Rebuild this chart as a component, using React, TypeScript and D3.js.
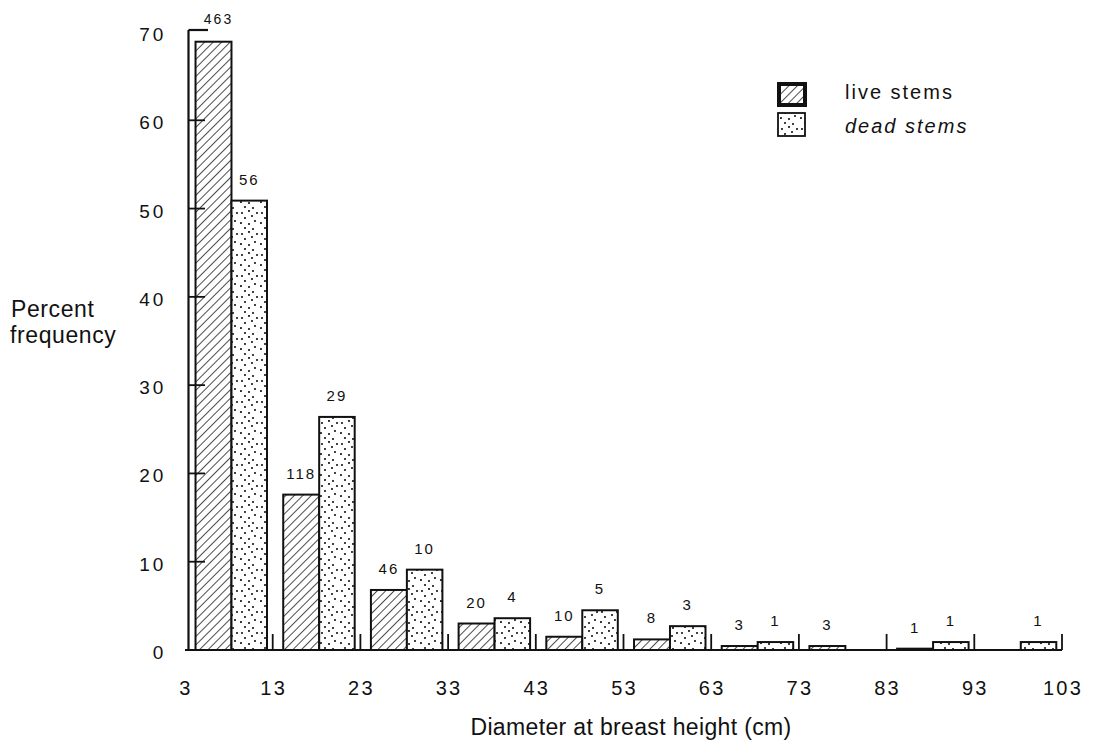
import React from "react";
import * as d3 from "d3";

const binStarts = [3, 13, 23, 33, 43, 53, 63, 73, 83, 93];
const xTickLabels = [3, 13, 23, 33, 43, 53, 63, 73, 83, 93, 103];
const yTicks = [0, 10, 20, 30, 40, 50, 60, 70];
const livePct = [68.9, 17.6, 6.8, 3.0, 1.5, 1.2, 0.45, 0.45, 0.15, 0];
const deadPct = [50.9, 26.4, 9.1, 3.6, 4.5, 2.7, 0.9, 0, 0.9, 0.9];
const liveCounts = ["463", "118", "46", "20", "10", "8", "3", "3", "1", ""];
const deadCounts = ["56", "29", "10", "4", "5", "3", "1", "", "1", "1"];

const W = 1094;
const H = 746;
const FONT = "'Liberation Sans', Arial, Helvetica, sans-serif";

export default function App() {
  const x = d3.scaleLinear().domain([3, 103]).range([185, 1062]);
  const y = d3.scaleLinear().domain([0, 70]).range([650, 32]);
  const y0 = y(0);
  const liveOff = [1.2, 5.3];
  const deadOff = [5.3, 9.35];

  const dots: [number, number][] = [
    [2, 3], [9, 1], [5, 8], [12, 6], [1, 13], [9, 14], [15, 11], [5, 18], [13, 19], [17, 3],
  ];

  return (
    <svg
      width={W}
      height={H}
      style={{ position: "absolute", left: 0, top: 0, background: "#fff" }}
      fontFamily={FONT}
    >
      <defs>
        <pattern id="hatch" width="6" height="6" patternUnits="userSpaceOnUse" patternTransform="rotate(45)">
          <rect width="6" height="6" fill="#fff" />
          <line x1="0" y1="0" x2="0" y2="6" stroke="#111" strokeWidth="1.5" />
        </pattern>
        <pattern id="dots" width="20" height="21" patternUnits="userSpaceOnUse">
          <rect width="20" height="21" fill="#fff" />
          {dots.map((d, i) => (
            <circle key={i} cx={d[0]} cy={d[1]} r={1.05} fill="#111" />
          ))}
        </pattern>
      </defs>

      {/* bars */}
      {binStarts.map((b, i) => {
        const lx0 = x(b + liveOff[0]);
        const lx1 = x(b + liveOff[1]);
        const dx0 = x(b + deadOff[0]);
        const dx1 = x(b + deadOff[1]);
        const ly = y(livePct[i]);
        const dy = y(deadPct[i]);
        return (
          <g key={b}>
            {livePct[i] > 0 && (
              <rect x={lx0} y={ly} width={lx1 - lx0} height={y0 - ly} fill="url(#hatch)" stroke="#111" strokeWidth={2} />
            )}
            {deadPct[i] > 0 && (
              <rect x={dx0} y={dy} width={dx1 - dx0} height={y0 - dy} fill="url(#dots)" stroke="#111" strokeWidth={2} />
            )}
            {liveCounts[i] && (
              <text
                x={(lx0 + lx1) / 2 + (i === 0 ? 5 : 0)}
                y={i === 0 ? 24 : ly - 16}
                textAnchor="middle"
                fontSize={i === 0 ? 14 : 15}
                letterSpacing={2}
                fill="#111"
              >
                {liveCounts[i]}
              </text>
            )}
            {deadCounts[i] && (
              <text
                x={(dx0 + dx1) / 2}
                y={dy - 16}
                textAnchor="middle"
                fontSize={15}
                letterSpacing={2}
                fill="#111"
              >
                {deadCounts[i]}
              </text>
            )}
          </g>
        );
      })}

      {/* x axis */}
      <line x1={x(3)} x2={x(103)} y1={y0} y2={y0} stroke="#111" strokeWidth={2.2} />
      {xTickLabels.slice(1).map((t) => (
        <line key={t} x1={x(t)} x2={x(t)} y1={y0} y2={y0 - 16} stroke="#111" strokeWidth={1.8} />
      ))}
      {xTickLabels.map((t) => (
        <text key={t} x={x(t) + 1} y={695} textAnchor="middle" fontSize={20} letterSpacing={2.2} fill="#111">
          {t}
        </text>
      ))}

      {/* y axis */}
      <line x1={x(3) + 3.5} x2={x(3) + 3.5} y1={y0} y2={y(70) - 2} stroke="#111" strokeWidth={2.2} />
      <line x1={x(3) + 3.5} x2={x(3) + 23} y1={y(70) - 2} y2={y(70) - 2} stroke="#111" strokeWidth={2.2} />
      {yTicks.map((t) => (
        <g key={t}>
          {t < 70 && (
            <line x1={x(3) + 3.5} x2={x(3) + 20} y1={y(t)} y2={y(t)} stroke="#111" strokeWidth={1.8} />
          )}
          <text x={166} y={y(t) + 9} textAnchor="end" fontSize={19} letterSpacing={2.8} fill="#111">
            {t}
          </text>
        </g>
      ))}

      {/* axis titles */}
      <text x={11} y={317} fontSize={23} letterSpacing={0.6} fill="#111">Percent</text>
      <text x={10} y={343} fontSize={23} letterSpacing={0.6} fill="#111">frequency</text>
      <text x={631} y={735} textAnchor="middle" fontSize={23} letterSpacing={0.35} fill="#111">
        Diameter at breast height (cm)
      </text>

      {/* legend */}
      <rect x={779} y={84} width={26} height={21} fill="url(#hatch)" stroke="#111" strokeWidth={4} />
      <rect x={778} y={113} width={27} height={23} fill="url(#dots)" stroke="#111" strokeWidth={1.8} />
      <text x={845} y={99} fontSize={20} letterSpacing={2} fill="#111">live stems</text>
      <text x={845} y={133} fontSize={20} letterSpacing={2} fontStyle="italic" fill="#111">dead stems</text>
    </svg>
  );
}
